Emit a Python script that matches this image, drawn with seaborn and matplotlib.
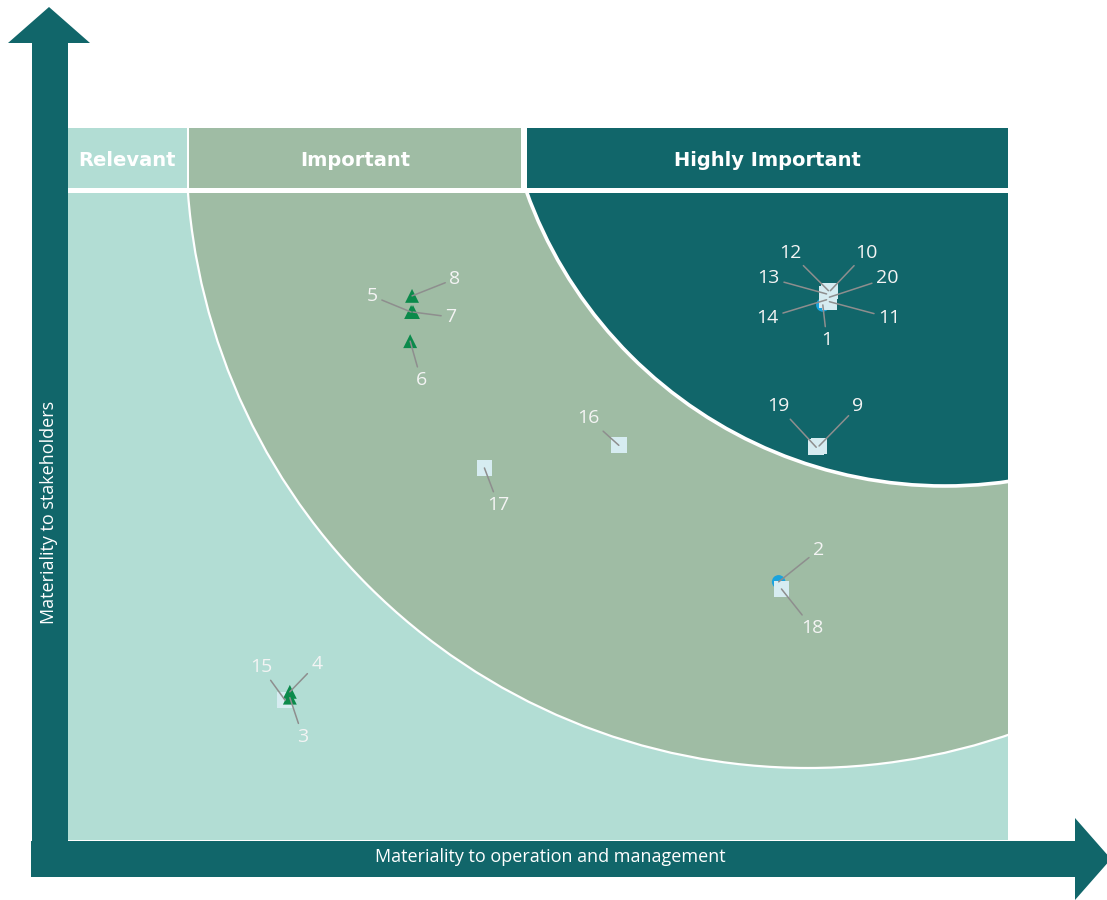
import numpy as np
import pandas as pd
import matplotlib
matplotlib.use("Agg")
import matplotlib.pyplot as plt
from matplotlib.patches import Ellipse, Rectangle, Polygon
import seaborn as sns

# ---------------- data ----------------
ids = ["1", "2", "3", "4", "5", "6", "7", "8", "9", "10",
       "11", "12", "13", "14", "15", "16", "17", "18", "19", "20"]
# materiality to operation and management (0-100)
x_vals = [80.3, 75.6, 23.6, 23.6, 36.5, 36.4, 36.7, 36.6, 79.9, 81.1,
          81.0, 80.9, 80.7, 80.7, 23.1, 58.6, 44.3, 75.9, 79.6, 81.0]
# materiality to stakeholders (0-100)
y_vals = [82.7, 39.9, 22.0, 22.9, 81.6, 77.1, 81.6, 84.1, 60.9, 84.9,
          83.2, 84.9, 84.4, 83.5, 21.6, 61.0, 57.5, 38.8, 60.7, 83.9]
kinds = ["circle", "circle", "triangle", "triangle", "triangle", "triangle", "triangle", "triangle", "square", "square",
         "square", "square", "square", "square", "square", "square", "square", "square", "square", "square"]
# label offsets (pixels) relative to each point
label_dx = [4, 40, 13, 27, -39, 11, 38, 43, 39, 36, 60, -38, -58, -59, -24, -30, 14, 31, -38, 58]
label_dy = [-35, 32, -39, 28, 16, -39, -5, 17, 40, 38, -16, 38, 16, -18, 33, 27, -37, -39, 41, 19]

zone_names = ["Relevant", "Important", "Highly Important"]
x_label = "Materiality to operation and management"
y_label = "Materiality to stakeholders"

# ---------------- style ----------------
DARK = "#11666A"
LIGHT = "#B2DDD4"
SAGE = "#9FBCA4"
SQ = "#D6ECF1"
TRI = "#0B8A4B"
CIR = "#1AA3DD"

W, H = 1107, 900
sns.set_style("white")
fig = plt.figure(figsize=(W / 100, H / 100), dpi=100)

def fx(px):
    return px / W

def fy(py):
    return 1 - py / H

# plot area: pixels x 68..1008, y 193..840
L, R, T, B = 68, 1008, 193, 840
ax = fig.add_axes([fx(L), fy(B), (R - L) / W, (B - T) / H])
ax.set_xlim(0, 100)
ax.set_ylim(0, 100)
ax.set_facecolor(LIGHT)
for s in ax.spines.values():
    s.set_visible(False)
ax.set_xticks([])
ax.set_yticks([])

sx = (R - L) / 100.0  # px per unit x
sy = (B - T) / 100.0  # px per unit y

def ell(cxp, cyp, rp, color, lw):
    e = Ellipse(((cxp - L) / sx, (B - cyp) / sy), 2 * rp / sx, 2 * rp / sy,
                facecolor=color, edgecolor="white", lw=lw, zorder=0.5)
    ax.add_patch(e)

ell(808, 146.2, 621.8, SAGE, 1.6)
ell(945, 41.3, 444.7, DARK, 2.6)

df = pd.DataFrame({"id": ids, "x": x_vals, "y": y_vals, "kind": kinds,
                   "dx": label_dx, "dy": label_dy})

sub = df[df.kind == "circle"]
sns.scatterplot(data=sub, x="x", y="y", marker="o", s=95, color=CIR,
                edgecolor="none", linewidth=0, ax=ax, legend=False, zorder=2)
sub = df[df.kind == "square"]
sns.scatterplot(data=sub, x="x", y="y", marker="s", s=128, color=SQ,
                edgecolor="none", linewidth=0, ax=ax, legend=False, zorder=2.1)
sub = df[df.kind == "triangle"]
sns.scatterplot(data=sub, x="x", y="y", marker="^", s=100, color=TRI,
                edgecolor="none", linewidth=0, ax=ax, legend=False, zorder=2.2)
ax.set_xlabel("")
ax.set_ylabel("")

for _, r in df.iterrows():
    ax.annotate(r["id"], xy=(r["x"], r["y"]), xytext=(r["dx"], r["dy"]),
                textcoords="offset pixels", ha="center", va="center",
                fontsize=14, color="#F4F4F4", family=["Open Sans", "DejaVu Sans"],
                bbox=dict(boxstyle="square,pad=0.15", fc="none", ec="none"),
                arrowprops=dict(arrowstyle="-", color="#8E8E8E", lw=1.1,
                                shrinkA=1, shrinkB=0),
                zorder=3)

# ---------------- header boxes ----------------
heads = [(68, 187, LIGHT), (189, 521, SAGE), (527, 1008, DARK)]
for (x0, x1, c), name in zip(heads, zone_names):
    fig.add_artist(Rectangle((fx(x0), fy(188)), (x1 - x0) / W, 60 / H,
                             transform=fig.transFigure, facecolor=c,
                             edgecolor="none"))
    fig.text(fx((x0 + x1) / 2), fy(160), name, ha="center", va="center",
             color="white", fontsize=14, fontweight="bold",
             family="DejaVu Sans")

# ---------------- arrows ----------------
yarrow = [(32, 877), (32, 43), (8, 43), (49, 7), (90, 43), (68, 43), (68, 877)]
xarrow = [(31, 841), (1075, 841), (1075, 818), (1111, 859), (1075, 900),
          (1075, 877), (31, 877)]
for pts in (yarrow, xarrow):
    fig.add_artist(Polygon([(fx(a), fy(b)) for a, b in pts], closed=True,
                           transform=fig.transFigure, facecolor=DARK,
                           edgecolor="none"))

fig.text(fx(550), fy(857), x_label, ha="center", va="center", color="white",
         fontsize=13, family=["Open Sans", "DejaVu Sans"])
fig.text(fx(49), fy(512), y_label, ha="center", va="center", color="white",
         fontsize=13, rotation=90, family=["Open Sans", "DejaVu Sans"])

fig.savefig("out.png", dpi=100, facecolor="white")
